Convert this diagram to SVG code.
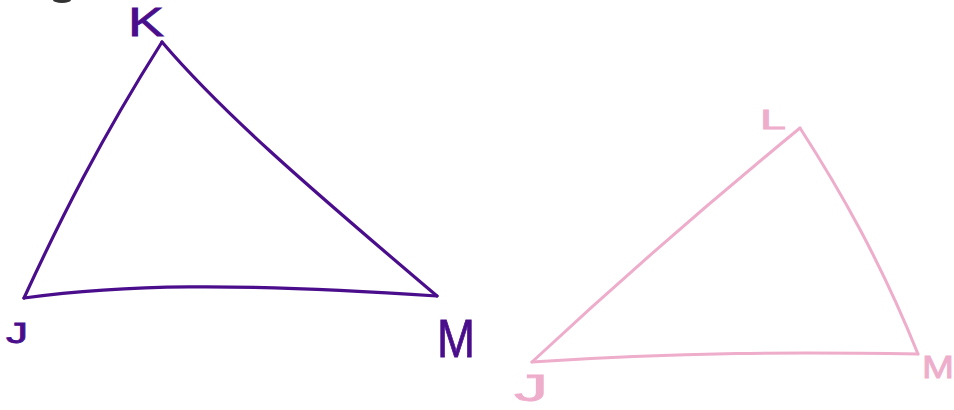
<svg xmlns="http://www.w3.org/2000/svg" width="954" height="410" viewBox="0 0 954 410">
<style>
.p{fill:none;stroke:#4a0e8c;stroke-width:3.2;stroke-linecap:round;stroke-linejoin:round}
.k{fill:none;stroke:#eeadcb;stroke-width:3;stroke-linecap:round;stroke-linejoin:round}
.tp{fill:#4a0e8c;stroke:#4a0e8c;stroke-width:0.8;font-family:"Liberation Sans",Arial,sans-serif;font-weight:normal}
.tk{fill:#eeadcb;stroke:#eeadcb;stroke-width:0.8;font-family:"Liberation Sans",Arial,sans-serif;font-weight:normal}
</style>
<rect width="954" height="410" fill="#ffffff"/>
<ellipse cx="62" cy="0" rx="9" ry="3" fill="#333"/>
<g id="connectors">
<path class="p" d="M24,298 C60,220 100,140 162,42"/>
<path class="p" d="M162,42 C220,110 300,180 437,296"/>
<path class="p" d="M24,298 C120,285 230,282 437,296"/>
<path class="k" d="M532,362 C620,280 700,210 800,128"/>
<path class="k" d="M800,128 C840,190 880,260 918,354"/>
<path class="k" d="M532,362 C680,352 800,352 918,354"/>
</g>
<g id="K"><text class="tp" x="128" y="36" font-size="40" textLength="36" lengthAdjust="spacingAndGlyphs">K</text></g>
<g id="J1"><text class="tp" x="6" y="343" font-size="30" textLength="22" lengthAdjust="spacingAndGlyphs">J</text></g>
<g id="M1"><text class="tp" x="437" y="357" font-size="54" textLength="38" lengthAdjust="spacingAndGlyphs">M</text></g>
<g id="L"><text class="tk" x="760" y="129" font-size="28" textLength="26" lengthAdjust="spacingAndGlyphs">L</text></g>
<g id="J2"><text class="tk" x="514" y="401" font-size="36" textLength="34" lengthAdjust="spacingAndGlyphs">J</text></g>
<g id="M2"><text class="tk" x="922" y="378" font-size="32" textLength="32" lengthAdjust="spacingAndGlyphs">M</text></g>
</svg>
